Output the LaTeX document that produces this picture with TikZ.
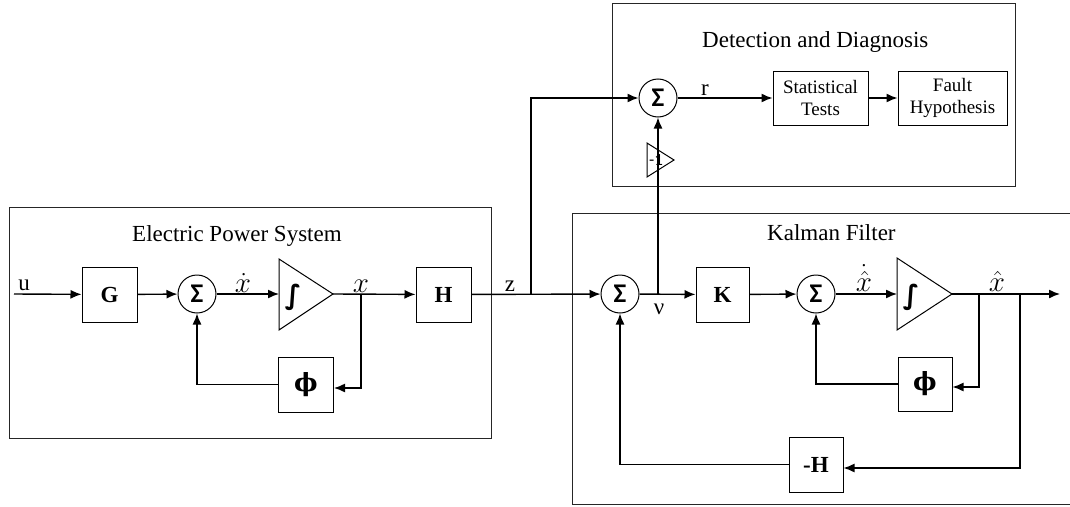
\RequirePackage{fix-cm}
\documentclass[tikz,border=0pt]{standalone}
\usepackage{fontspec}
\setmainfont{Liberation Serif}
\newfontfamily\carl{Carlito}
\newfontfamily\djserif{DejaVu Serif}
\newfontfamily\djsans{DejaVu Sans}
\usetikzlibrary{arrows.meta}
\tikzset{
  frame/.style={line width=1pt, draw=black!85},
  box/.style={draw, line width=1pt, inner sep=0pt, fill=white},
  blk/.style={box, minimum width=55pt, minimum height=55pt, font=\fontsize{23}{23}\selectfont\bfseries},
  sumn/.style={draw, circle, line width=1pt, minimum size=38pt, inner sep=0pt, fill=white, font=\carl\fontsize{27}{27}\selectfont\bfseries},
  tri/.style={draw, line width=1pt, fill=white},
  wire/.style={line width=1.4pt},
  conn/.style={line width=1.4pt, -{Latex[length=11pt,width=9pt]}},
  lbl/.style={font=\fontsize{23}{23}\selectfont, inner sep=0pt, anchor=base},
  mlbl/.style={font=\fontsize{29}{29}\selectfont, inner sep=0pt, anchor=base},
  ttl/.style={font=\fontsize{23}{23}\selectfont, inner sep=0pt, anchor=base west},
  txtbox/.style={box, align=center, font=\fontsize{19}{22}\selectfont, minimum height=54pt},
  integ/.style={inner sep=0pt, font=\djsans\bfseries\fontsize{27}{27}\selectfont},
}
\begin{document}
\begin{tikzpicture}[x=1pt,y=-1pt]
\useasboundingbox (0,0) rectangle (1070,506);
% frames
\draw[frame] (9,207) rectangle (491,438);
\draw[frame] (612,3) rectangle (1015,186);
\draw[frame] (1075,213) -- (572,213) -- (572,504) -- (1075,504);
\node[ttl] (tEPS) at (132,241) {Electric Power System};
\node[ttl] (tDD) at (702,47) {Detection and Diagnosis};
\node[ttl] (tKF) at (767,240) {Kalman Filter};

% ---- Electric power system
\coordinate (uin) at (14,294);
\node[lbl] (u) at (24,290) {u};
\node[blk] (G) at (109.5,294.5) {G};
\node[sumn] (S1) at (197,294) {Σ};
\draw[tri] (279,259) -- (279,330) -- (333,294) -- cycle;
\coordinate (i1in) at (279,294);
\coordinate (i1out) at (333,294);
\node[integ] (I1) at (293,297) {∫};
\node[mlbl] (xd) at (243,292) {$\dot{x}$};
\node[mlbl] (xl) at (361,292) {$x$};
\node[blk, font=\djserif\bfseries\fontsize{25}{25}\selectfont] (P1) at (306,384.5) {ϕ};
\node[blk] (H) at (443.5,294.5) {H};
\coordinate (b1) at (361,294);

% ---- Detection and diagnosis
\node[sumn] (SD) at (658,98) {Σ};
\node[lbl] (r) at (705,95) {r};
\node[txtbox, minimum width=95pt] (ST) at (820.5,98) {Statistical\\Tests};
\node[txtbox, minimum width=109pt] (FH) at (952.5,98) {Fault\\Hypothesis};

% ---- Kalman filter
\node[sumn] (SK1) at (620,294) {Σ};
\node[lbl] (nu) at (659,314) {ν};
\node[lbl] (z) at (510,291) {z};
\coordinate (zb) at (531,294);
\coordinate (nub) at (658,294);
\node[blk, minimum width=53pt] (K) at (722.5,294.5) {K};
\node[sumn] (SK2) at (816,294) {Σ};
\draw[tri] (897,258) -- (897,330) -- (952,294) -- cycle;
\coordinate (i2in) at (897,294);
\coordinate (i2out) at (952,294);
\node[integ] (I2) at (911,297) {∫};
\node[mlbl] (xhd) at (864,291) {$\dot{\hat{x}}$};
\node[mlbl] (xh) at (997,291) {$\hat{x}$};
\node[blk, minimum width=54pt, minimum height=54pt, font=\djserif\bfseries\fontsize{25}{25}\selectfont] (P2) at (925,384) {ϕ};
\node[blk, minimum width=54pt] (MH) at (816,464.5) {-H};
\coordinate (b2) at (979,294);
\coordinate (b3) at (1020,294);
\coordinate (out) at (1060,294);

% -1 gain
\draw[tri, fill=none] (647,143) -- (647,177) -- (674,160) -- cycle;

% ---- connectors
\draw[conn] (uin) -- (G);
\draw[conn] (G) -- (S1);
\draw[conn] (S1) -- (i1in);
\draw[conn] (i1out) -- (H);
\draw[conn] (b1) |- ([yshift=-3.5pt]P1.east);
\draw[conn] (P1.west) -| (S1.south);
\draw[conn] (H) -- (SK1);
\draw[conn] (zb) |- (SD);
\draw[conn] (nub) -- (SD);
\draw[conn] (SD) -- (ST);
\draw[conn] (ST) -- (FH);
\draw[conn] (SK1) -- (K);
\draw[conn] (K) -- (SK2);
\draw[conn] (SK2) -- (i2in);
\draw[conn] (i2out) -- (out);
\draw[conn] (b2) |- ([yshift=-3pt]P2.east);
\draw[conn] (P2.west) -| (SK2.south);
\draw[conn] (b3) |- ([yshift=-3.5pt]MH.east);
\draw[conn] (MH.west) -| (SK1.south);
\node[inner sep=0pt, font=\carl\fontsize{17}{17}\selectfont] (m1) at (656,160) {-1};
\end{tikzpicture}
\end{document}
